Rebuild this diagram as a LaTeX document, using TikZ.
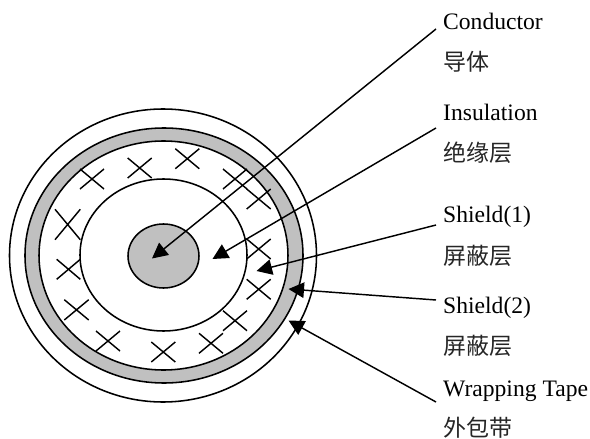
\documentclass[tikz,border=0pt]{standalone}
\usepackage{fontspec}
\usetikzlibrary{arrows.meta}
\setmainfont{Liberation Serif}
\newfontfamily\cjk{Noto Sans CJK SC}
\definecolor{layergray}{HTML}{C0C0C0}
\tikzset{
  layer/.style={draw=black,line width=1.55pt},
  crossline/.style={draw=black,line width=1.45pt},
  pointer/.style={draw=black,line width=1.45pt,-{Triangle[length=15.5pt,width=15.5pt]},shorten >=0pt},
  enlabel/.style={anchor=base west,inner sep=0pt,font=\fontsize{23.6pt}{24pt}\selectfont},
  zhlabel/.style={anchor=west,inner sep=0pt,font=\fontsize{23pt}{24pt}\selectfont\cjk,text=black!85}
}
\newcommand{\crossmark}[4]{\draw[crossline] (#1,#2) -- (#3,#4) (#1,#4) -- (#3,#2);}
\begin{document}
\begin{tikzpicture}[x=1pt,y=-1pt]
\useasboundingbox (0,0) rectangle (590,439);
% layers
\draw[layer] (163,255.5) ellipse [x radius=153.5,y radius=146.5];
\draw[layer,fill=layergray] (164,255.5) ellipse [x radius=139,y radius=127.5];
\draw[layer,fill=white] (163.5,255.5) ellipse [x radius=124.5,y radius=114.5];
% shield crosses
\crossmark{80}{169}{104}{189}
\crossmark{127.7}{158}{151.7}{178}
\crossmark{175.3}{148.7}{199.3}{168.7}
\crossmark{223}{169}{247}{189}
\crossmark{246.7}{189}{270.7}{209}
\crossmark{55}{209.3}{80.3}{239.7}
\crossmark{56.7}{259.3}{80.3}{279.3}
\crossmark{64.3}{299.7}{88.7}{320}
\crossmark{96}{331}{120}{351}
\crossmark{151.3}{342}{175.3}{362}
\crossmark{199}{333.3}{223}{353.3}
\crossmark{223}{310.7}{247}{330.7}
\crossmark{246.7}{279.3}{270.7}{299.3}
\crossmark{246.7}{239}{270.7}{259}
% core
\draw[layer,fill=white] (163.5,255) ellipse [x radius=83.5,y radius=76];
\draw[layer,fill=layergray] (163.5,256) ellipse [x radius=35.5,y radius=32];
% labels
\node[enlabel] (cond) at (443,29) {Conductor};
\node[zhlabel] (condz) at (443,62) {导体};
\node[enlabel] (insu) at (443,120) {Insulation};
\node[zhlabel] (insuz) at (443,153) {绝缘层};
\node[enlabel] (shia) at (443,222) {Shield(1)};
\node[zhlabel] (shiaz) at (443,256) {屏蔽层};
\node[enlabel] (shib) at (443,313) {Shield(2)};
\node[zhlabel] (shibz) at (443,346) {屏蔽层};
\node[enlabel] (wrap) at (443,396) {Wrapping Tape};
\node[zhlabel] (wrapz) at (443,428) {外包带};
% pointer ends
\coordinate (condS) at (436,29);
\coordinate (insuS) at (436,128);
\coordinate (shiaS) at (436,225);
\coordinate (shibS) at (436,300);
\coordinate (wrapS) at (436,402);
\coordinate (condT) at (152,258.5);
\coordinate (insuT) at (212.5,259);
\coordinate (shiaT) at (256.5,271);
\coordinate (shibT) at (288.5,289);
\coordinate (wrapT) at (288.5,320.5);
\draw[pointer] (condS) -- (condT);
\draw[pointer] (insuS) -- (insuT);
\draw[pointer] (shiaS) -- (shiaT);
\draw[pointer] (shibS) -- (shibT);
\draw[pointer] (wrapS) -- (wrapT);
\end{tikzpicture}
\end{document}
